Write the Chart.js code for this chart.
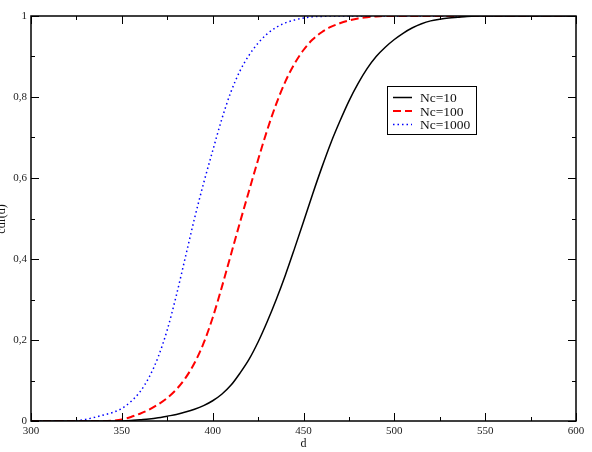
<!DOCTYPE html>
<html>
<head>
<meta charset="utf-8">
<script src="https://cdn.jsdelivr.net/npm/chart.js@4/dist/chart.umd.min.js"></script>
<style>
html,body{margin:0;padding:0;background:#fff;}
#wrap{width:592px;height:452px;position:relative;}
</style>
</head>
<body>
<div id="wrap"><canvas id="c" width="592" height="452"></canvas></div>
<script>
// ---- data ----
const dValues = [300,305,310,315,320,325,330,335,340,345,350,355,360,365,370,375,380,385,390,395,400,405,410,415,420,425,430,435,440,445,450,455,460,465,470,475,480,485,490,495,500,505,510,515,520,525,530,535,540,545,550,555,560,565,570,575,580,585,590,595,600];
const nc10 = [0,0,0,0,0,0,0,0,0,0,0,0.001,0.003,0.005,0.008,0.012,0.016,0.022,0.029,0.038,0.05,0.066,0.088,0.118,0.152,0.195,0.245,0.30,0.36,0.425,0.492,0.56,0.625,0.686,0.74,0.79,0.833,0.87,0.9,0.923,0.942,0.958,0.971,0.981,0.988,0.992,0.995,0.997,0.999,1,1,1,1,1,1,1,1,1,1,1,1];
const nc100 = [0,0,0,0,0,0,0,0,0,0.001,0.004,0.01,0.018,0.028,0.041,0.057,0.078,0.106,0.143,0.192,0.255,0.33,0.41,0.49,0.568,0.645,0.718,0.783,0.838,0.882,0.916,0.942,0.96,0.973,0.982,0.989,0.994,0.997,0.999,1,1,1,1,1,1,1,1,1,1,1,1,1,1,1,1,1,1,1,1,1,1];
const nc1000 = [0,0,0,0,0,0.001,0.004,0.009,0.015,0.021,0.031,0.048,0.072,0.108,0.158,0.225,0.31,0.405,0.5,0.587,0.667,0.745,0.812,0.864,0.903,0.933,0.956,0.972,0.983,0.99,0.995,0.998,0.999,1,1,1,1,1,1,1,1,1,1,1,1,1,1,1,1,1,1,1,1,1,1,1,1,1,1,1,1];
const seriesLabels = ["Nc=10","Nc=100","Nc=1000"];
const xTickStep = 50, xMinorStep = 25, xMin = 300, xMax = 600;
const yTickStep = 0.2, yMinorStep = 0.1, yMin = 0, yMax = 1;
const xTitle = "d";
const yTitle = "cdf(d)";

const SERIF = "'Liberation Serif','DejaVu Serif',serif";

function pts(arr){ return dValues.map((x,i)=>({x:x,y:arr[i]})); }

const styles = [
  {color:'#000000', width:1.5, dash:[]},
  {color:'#ff0000', width:2, dash:[8,4]},
  {color:'#0000ff', width:1.5, dash:[1.5,3]}
];
const allSeries = [nc10, nc100, nc1000];

const frame = {
  id:'frame',
  afterDraw(chart){
    const ctx = chart.ctx, a = chart.chartArea;
    const xs = chart.scales.x, ys = chart.scales.y;
    ctx.save();
    ctx.strokeStyle = '#000'; ctx.lineWidth = 1.5; ctx.setLineDash([]);
    ctx.strokeRect(a.left, a.top, a.right-a.left, a.bottom-a.top);
    ctx.lineWidth = 1;
    for (let v = xMin; v <= xMax + 1e-9; v += xMinorStep){
      const major = Math.abs((v - xMin) % xTickStep) < 1e-6;
      const L = major ? 8 : 4;
      const px = Math.round(xs.getPixelForValue(v)) + 0.5;
      ctx.beginPath();
      ctx.moveTo(px, a.bottom); ctx.lineTo(px, a.bottom - L);
      ctx.moveTo(px, a.top); ctx.lineTo(px, a.top + L);
      ctx.stroke();
    }
    for (let k = 0; k <= Math.round((yMax-yMin)/yMinorStep); k++){
      const v = yMin + k*yMinorStep;
      const major = k % 2 === 0;
      const L = major ? 8 : 4;
      const py = Math.round(ys.getPixelForValue(v)) + 0.5;
      ctx.beginPath();
      ctx.moveTo(a.left, py); ctx.lineTo(a.left + L, py);
      ctx.moveTo(a.right, py); ctx.lineTo(a.right - L, py);
      ctx.stroke();
    }
    ctx.fillStyle = '#111';
    ctx.font = "12px " + SERIF;
    ctx.textAlign = 'center'; ctx.textBaseline = 'alphabetic';
    ctx.fillText(xTitle, (a.left + a.right)/2, 447);
    ctx.save();
    ctx.translate(5, 219);
    ctx.rotate(-Math.PI/2);
    ctx.fillText(yTitle, 0, 0);
    ctx.restore();
    // legend
    const bx = 387.5, by = 86.5, bw = 89, bh = 48;
    ctx.fillStyle = '#fff';
    ctx.fillRect(bx, by, bw, bh);
    ctx.strokeStyle = '#000'; ctx.lineWidth = 1;
    ctx.strokeRect(bx, by, bw, bh);
    const rows = [97.5, 111, 124.5];
    ctx.font = "13.5px " + SERIF;
    ctx.textAlign = 'left'; ctx.textBaseline = 'middle';
    for (let i = 0; i < 3; i++){
      const s = styles[i];
      ctx.strokeStyle = s.color; ctx.lineWidth = s.width; ctx.setLineDash(s.dash);
      ctx.beginPath(); ctx.moveTo(393, rows[i]); ctx.lineTo(412, rows[i]); ctx.stroke();
      ctx.setLineDash([]);
      ctx.fillStyle = '#111';
      ctx.fillText(seriesLabels[i], 420, rows[i]+1);
    }
    ctx.restore();
  }
};

new Chart(document.getElementById('c'), {
  type:'line',
  data:{
    datasets: allSeries.map((arr,i)=>({
      label: seriesLabels[i],
      data: pts(arr),
      borderColor: styles[i].color,
      borderWidth: styles[i].width,
      borderDash: styles[i].dash,
      pointRadius: 0,
      fill: false,
      cubicInterpolationMode: 'monotone'
    }))
  },
  options:{
    responsive:false,
    animation:false,
    events:[],
    layout:{padding:{top:16,right:16,left:0,bottom:0}},
    plugins:{legend:{display:false}, tooltip:{enabled:false}},
    scales:{
      x:{
        type:'linear', min:xMin, max:xMax,
        grid:{display:false, drawTicks:false},
        border:{display:false},
        ticks:{stepSize:xTickStep, padding:4, maxRotation:0, autoSkip:false,
          color:'#222', font:{family:SERIF, size:11}},
        afterFit(s){ s.height = 31; }
      },
      y:{
        type:'linear', min:yMin, max:yMax,
        grid:{display:false, drawTicks:false},
        border:{display:false},
        ticks:{stepSize:yTickStep, padding:4, autoSkip:false,
          color:'#222', font:{family:SERIF, size:11},
          callback:(v)=> String(Math.round(v*10)/10).replace('.', ',')},
        afterFit(s){ s.width = 31; }
      }
    }
  },
  plugins:[frame]
});
</script>
</body>
</html>
